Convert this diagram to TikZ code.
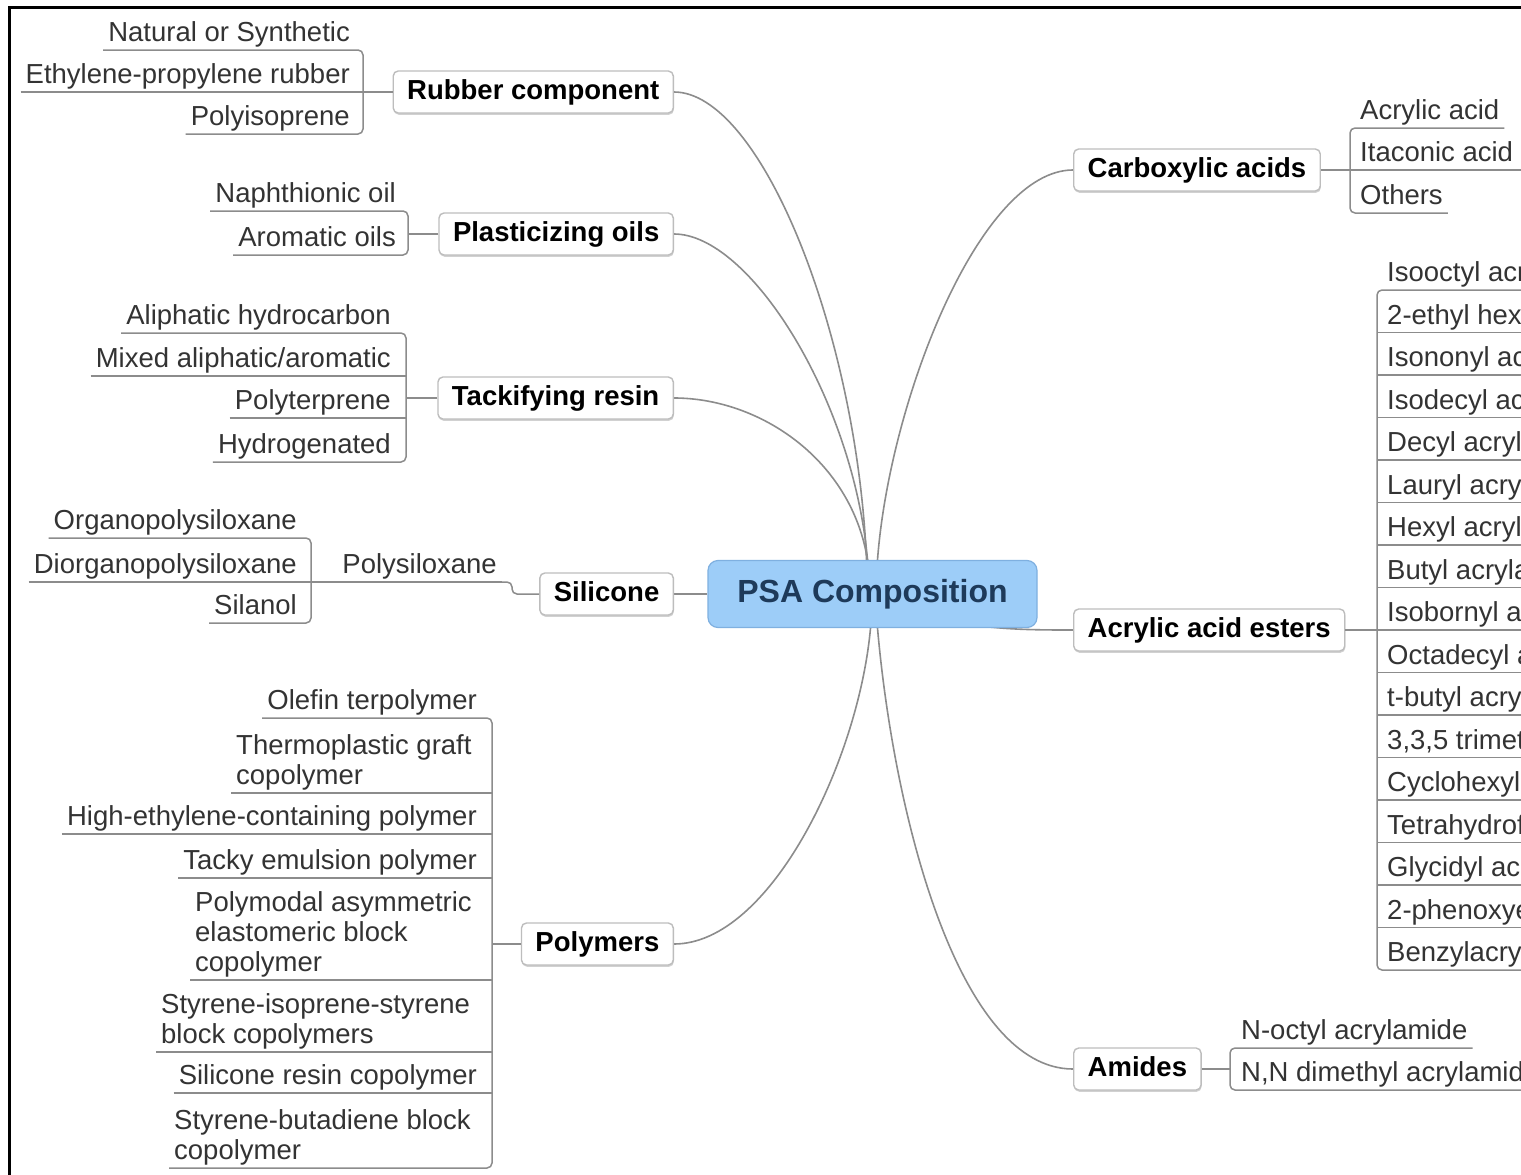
\documentclass[tikz,border=0pt]{standalone}
\usepackage{fontspec}
\setmainfont{Liberation Sans}
\usetikzlibrary{calc,shadows}
\definecolor{lnc}{HTML}{8C8C8C}
\definecolor{psafill}{HTML}{9DCDF8}
\definecolor{psaline}{HTML}{7FB0E0}
\definecolor{psatext}{HTML}{1E3A5A}
\definecolor{leaftext}{HTML}{333333}
\definecolor{topicline}{HTML}{BDBDBD}
\pgfdeclarelayer{bg}
\pgfsetlayers{bg,main}
\newcommand{\ml}[1]{\begin{tabular}[b]{@{}l@{}}#1\end{tabular}}
\tikzset{
  psabox/.style={draw=psaline, line width=1.2pt, fill=psafill, rounded corners=10pt,
    minimum width=329pt, minimum height=67pt, inner sep=0pt,
    font=\fontsize{32}{34}\selectfont\bfseries, text=psatext},
  topic/.style={draw=topicline, line width=1.4pt, fill=white, rounded corners=5pt,
    font=\fontsize{27.5}{30}\selectfont\bfseries, inner xsep=14pt, inner ysep=0pt,
    minimum height=42pt, text height=20pt, text depth=6pt,
    drop shadow={shadow xshift=0.6pt, shadow yshift=-1.8pt, fill=black, opacity=0.18}},
  leaf/.style={font=\fontsize{27.5}{30}\selectfont, text=leaftext, inner xsep=5pt,
    inner ysep=0pt, text depth=8pt},
  uline/.style={draw=lnc, line width=1.5pt},
  conn/.style={draw=lnc, line width=1.6pt},
}
\begin{document}
\begin{tikzpicture}[x=1pt,y=-1pt]
\useasboundingbox (0,0) rectangle (1521,1175);
\clip (0,0) rectangle (1521,1175);
\begin{pgfonlayer}{bg}
\fill[white] (0,0) rectangle (1521,1175);
\end{pgfonlayer}
\draw[line width=3pt] (9.5,1180) -- (9.5,7.5) -- (1530,7.5);

% central topic
\node[psabox] (psa) at (872.5,594) {PSA Composition};

% main topics
\node[topic, anchor=east] (rub) at (674,92) {Rubber component};
\node[topic, anchor=east] (pla) at (674,234) {Plasticizing oils};
\node[topic, anchor=east] (tac) at (674,398) {Tackifying resin};
\node[topic, anchor=east] (sil) at (674,594) {Silicone};
\node[topic, anchor=east] (pmr) at (674,944) {Polymers};
\node[topic, anchor=west] (car) at (1073,170) {Carboxylic acids};
\node[topic, anchor=west] (est) at (1073,630) {Acrylic acid esters};
\node[topic, anchor=west] (ami) at (1073,1069) {Amides};

% bracket x positions
\coordinate (bR) at (363,0);
\coordinate (bP) at (408,0);
\coordinate (bT) at (406,0);
\coordinate (bS) at (311,0);
\coordinate (bM) at (492,0);
\coordinate (bC) at (1350,0);
\coordinate (bE) at (1377,0);
\coordinate (bA) at (1230,0);
\coordinate (edge) at (1530,0);

% Rubber component
\node[leaf, anchor=south east] (r1) at (355,50) {Natural or Synthetic};
\node[leaf, anchor=south east] (r2) at (355,92) {Ethylene-propylene rubber};
\node[leaf, anchor=south east] (r3) at (355,134) {Polyisoprene};
\draw[uline, rounded corners=5pt] (r1.south west) -- (r1.south west -| bR) -- (r3.south west -| bR) -- (r3.south west);
\draw[uline] (r2.south west) -- (rub.west);

% Plasticizing oils
\node[leaf, anchor=south east] (p1) at (401,211) {Naphthionic oil};
\node[leaf, anchor=south east] (p2) at (401,255) {Aromatic oils};
\draw[uline, rounded corners=5pt] (p1.south west) -- (p1.south west -| bP) -- (p2.south west -| bP) -- (p2.south west);
\draw[uline] (pla.west) -- (pla.west -| bP);

% Tackifying resin
\node[leaf, anchor=south east] (t1) at (396,333) {Aliphatic hydrocarbon};
\node[leaf, anchor=south east] (t2) at (396,376) {Mixed aliphatic/aromatic};
\node[leaf, anchor=south east] (t3) at (396,418) {Polyterprene};
\node[leaf, anchor=south east] (t4) at (396,462) {Hydrogenated};
\draw[uline, rounded corners=5pt] (t1.south west) -- (t1.south west -| bT) -- (t4.south west -| bT) -- (t4.south west);
\draw[uline] (t2.south west) -- (t2.south west -| bT);
\draw[uline] (t3.south west) -- (t3.south west -| bT);
\draw[uline] (tac.west) -- (tac.west -| bT);

% Silicone
\node[leaf, anchor=south east] (s1) at (302,538) {Organopolysiloxane};
\node[leaf, anchor=south east] (s2) at (302,582) {Diorganopolysiloxane};
\node[leaf, anchor=south east] (s3) at (302,623) {Silanol};
\node[leaf, anchor=south east] (px) at (502,582) {Polysiloxane};
\draw[uline, rounded corners=5pt] (s1.south west) -- (s1.south west -| bS) -- (s3.south west -| bS) -- (s3.south west);
\draw[uline] (s2.south west) -- (px.south east);
\draw[uline, rounded corners=5pt] (px.south east) -- ++(10,0) |- (sil.west);

% Polymers
\node[leaf, anchor=south east] (m1) at (482,718) {Olefin terpolymer};
\node[leaf, anchor=south west] (m2) at (231,793) {\ml{Thermoplastic graft\\copolymer}};
\node[leaf, anchor=south east] (m3) at (482,834) {High-ethylene-containing polymer};
\node[leaf, anchor=south east] (m4) at (482,878) {Tacky emulsion polymer};
\node[leaf, anchor=south west] (m5) at (190,980) {\ml{Polymodal asymmetric\\elastomeric block\\copolymer}};
\node[leaf, anchor=south west] (m6) at (156,1052) {\ml{Styrene-isoprene-styrene\\block copolymers}};
\node[leaf, anchor=south east] (m7) at (482,1093) {Silicone resin copolymer};
\node[leaf, anchor=south west] (m8) at (169,1168) {\ml{Styrene-butadiene block\\copolymer}};
\draw[uline, rounded corners=5pt] (m1.south west) -- (m1.south west -| bM) -- (m8.south west -| bM) -- (m8.south west);
\foreach \m in {m2,m3,m4,m5,m6,m7} {\draw[uline] (\m.south west) -- (\m.south west -| bM);}
\draw[uline] (pmr.west) -- (pmr.west -| bM);

% Carboxylic acids
\node[leaf, anchor=south west] (c1) at (1355,128) {Acrylic acid};
\node[leaf, anchor=south west] (c2) at (1355,170) {Itaconic acid};
\node[leaf, anchor=south west] (c3) at (1355,213) {Others};
\draw[uline, rounded corners=5pt] (c1.south east) -- (c1.south east -| bC) -- (c3.south east -| bC) -- (c3.south east);
\draw[uline] (car.east) -- (c2.south east -| edge);

% Acrylic acid esters
\foreach \t [count=\i] in {Isooctyl acr, 2-ethyl hex, Isononyl ac, Isodecyl ac, Decyl acryl,
  Lauryl acry, Hexyl acryl, Butyl acryla, Isobornyl a, Octadecyl a, t-butyl acry,
  {3,3,5 trimet}, Cyclohexyl, Tetrahydrof, Glycidyl acr, 2-phenoxye, Benzylacry} {
  \node[leaf, anchor=south west] (e\i) at (1382,{290+42.5*(\i-1)}) {\t};
}
\draw[uline, rounded corners=5pt] (e1.south west -| edge) -- (e1.south west -| bE) -- (e17.south west -| bE) -- (e17.south west -| edge);
\foreach \i in {2,...,16} {\draw[uline] (e\i.south west -| bE) -- (e\i.south west -| edge);}
\draw[uline] (est.east) -- (est.east -| bE);

% Amides
\node[leaf, anchor=south west] (a1) at (1236,1048) {N-octyl acrylamide};
\node[leaf, anchor=south west] (a2) at (1236,1090) {N,N dimethyl acrylamid};
\draw[uline, rounded corners=5pt] (a1.south east) -- (a1.south east -| bA) -- (a2.south east -| bA) -- (a2.south east -| edge);
\draw[uline] (ami.east) -- (ami.east -| bA);

% connectors from the central topic
\begin{pgfonlayer}{bg}
\draw[conn] (rub.east) .. controls +(86,0) and +(-10,-230) .. ([xshift=-6pt]psa.north);
\draw[conn] (pla.east) .. controls +(76,0) and +(-14,-160) .. ([xshift=-5pt]psa.north);
\draw[conn] (tac.east) .. controls +(86,0) and +(-16,-100) .. ([xshift=-5pt]psa.north);
\draw[conn] ([xshift=5pt]psa.north) .. controls +(12,-160) and +(-93,0) .. (car.west);
\draw[conn] (pmr.east) .. controls +(96,0) and +(-12,133) .. ([xshift=-2pt]psa.south);
\draw[conn] ([xshift=5pt]psa.south) .. controls +(17,193) and +(-113,0) .. (ami.west);
\draw[conn] (psa.center) .. controls +(70,36) and +(-60,0) .. (est.west);
\draw[conn] (psa.west) -- (sil.east);
\end{pgfonlayer}
\end{tikzpicture}
\end{document}
